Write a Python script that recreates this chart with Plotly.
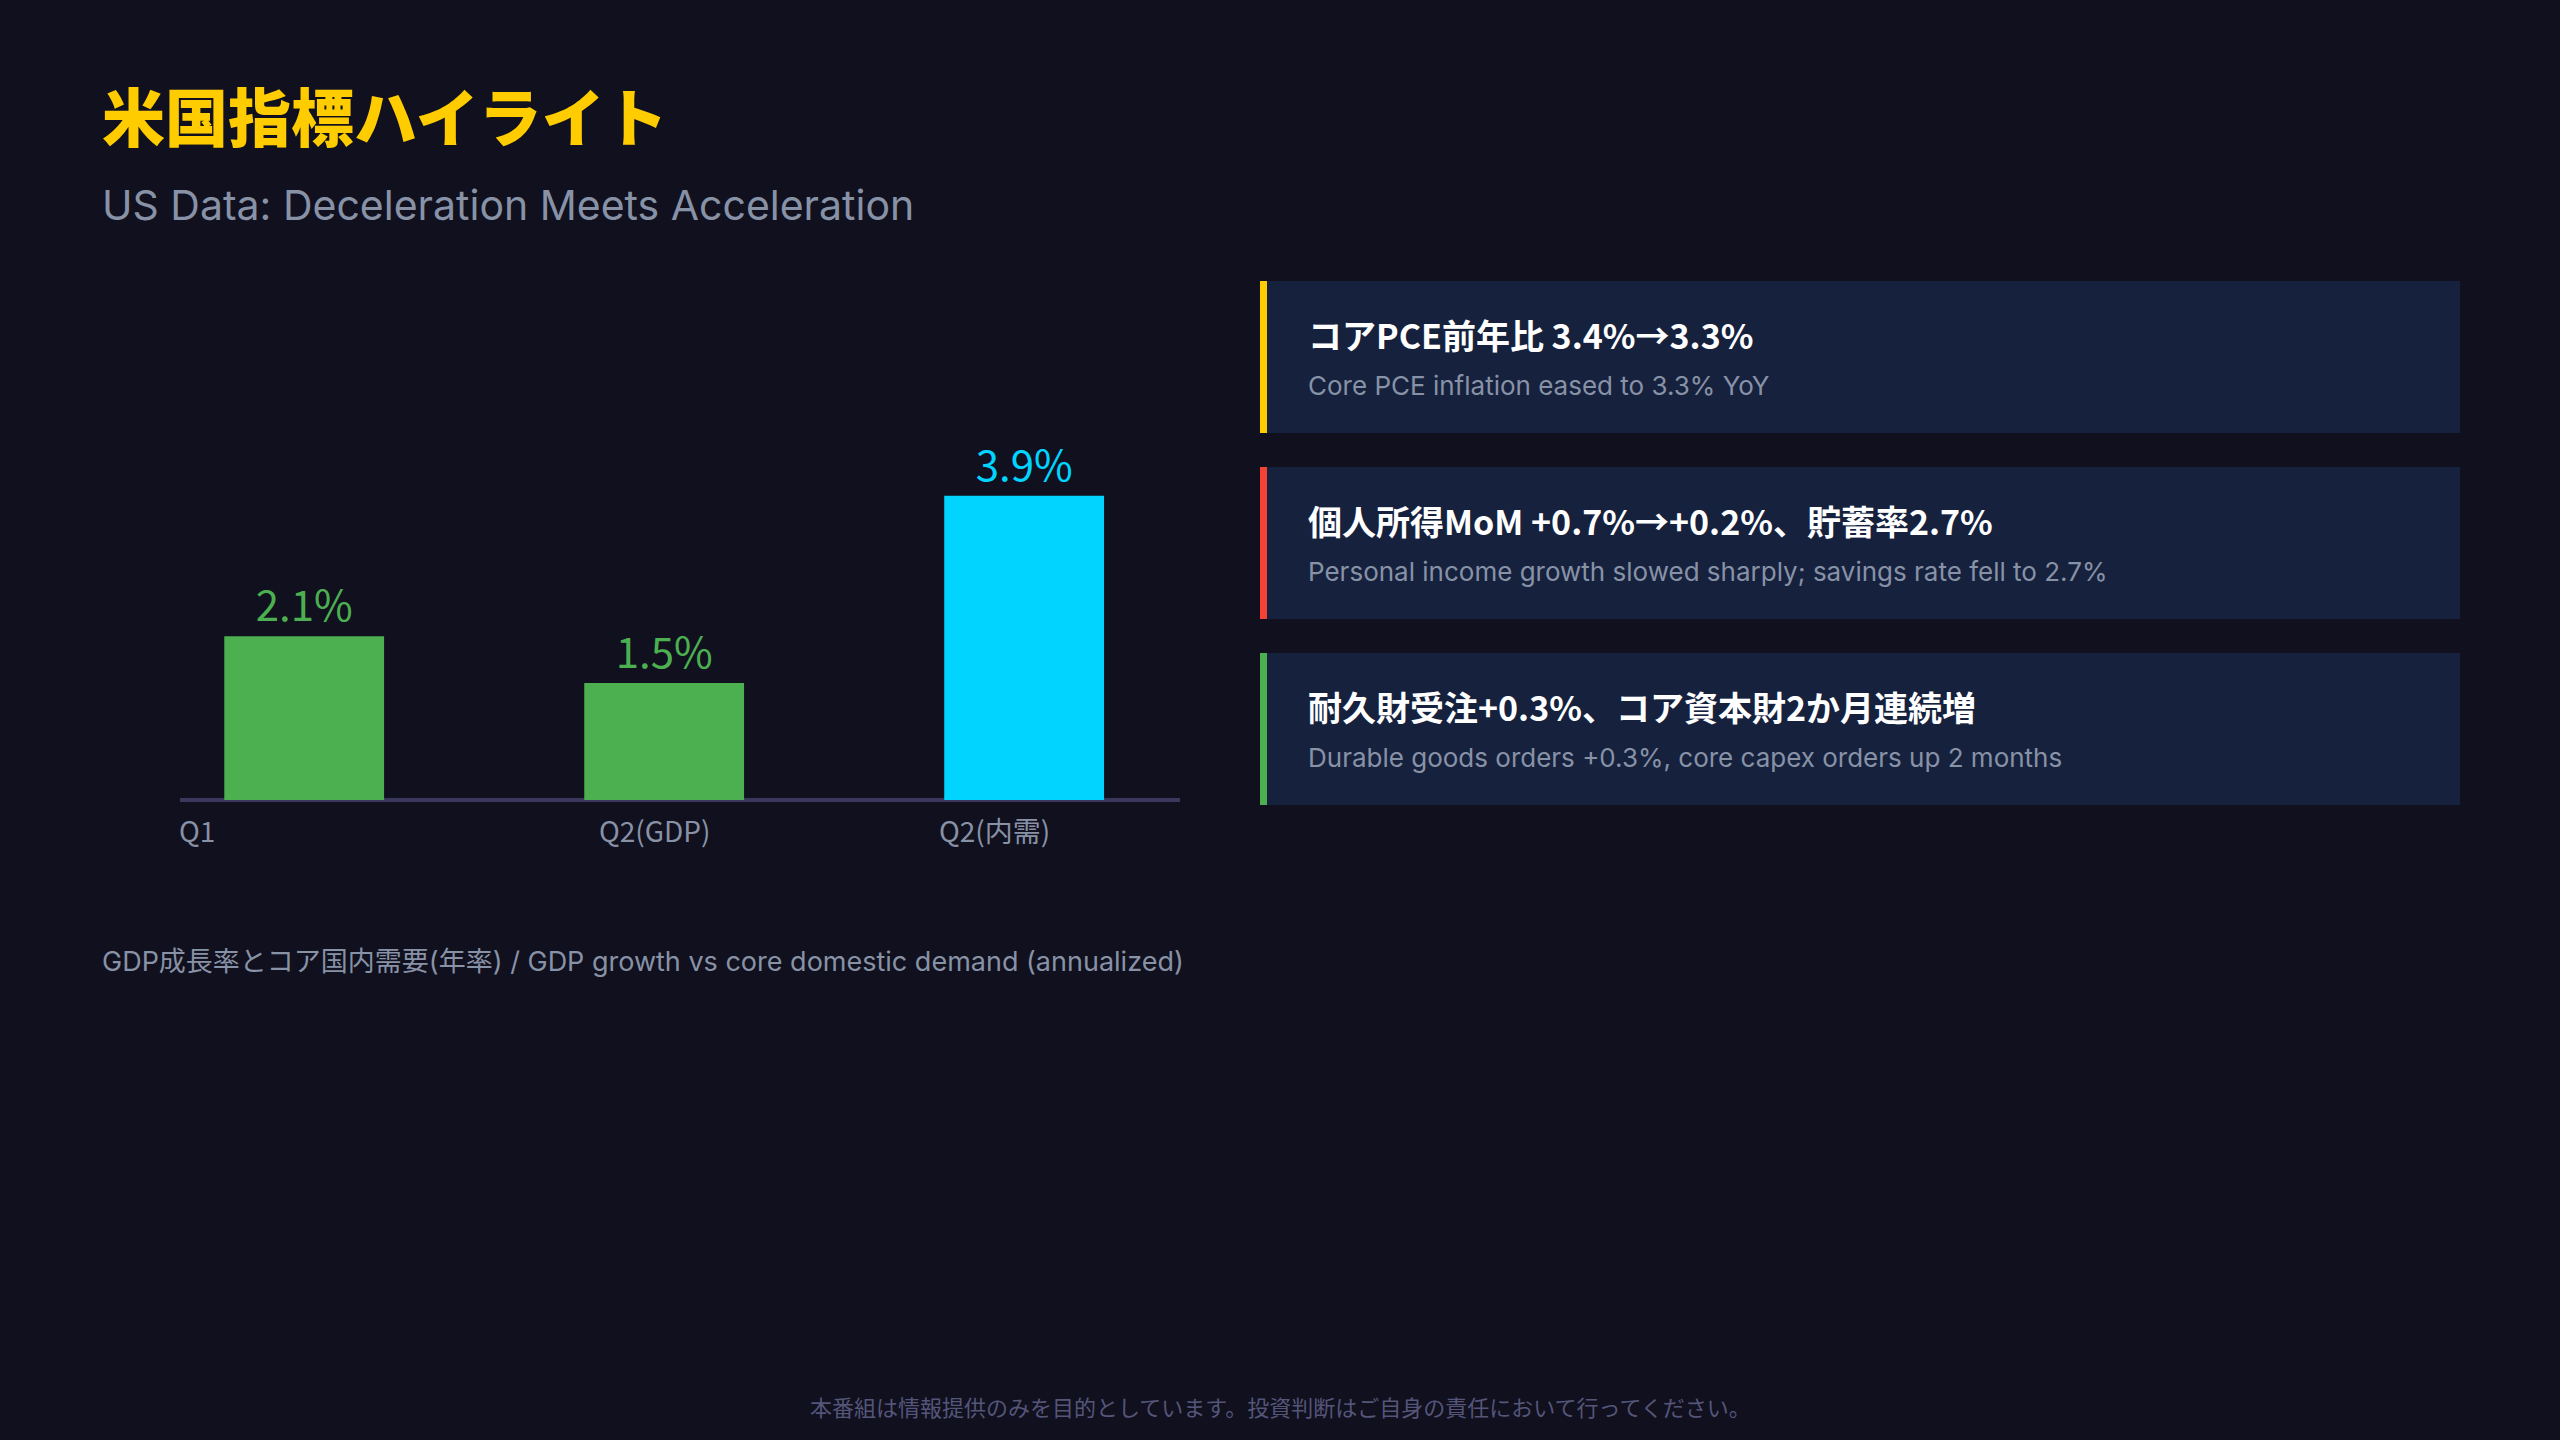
import plotly.graph_objects as go

# ---------------- data ----------------
categories = ["Q1", "Q2(GDP)", "Q2(内需)"]
values = [2.1, 1.5, 3.9]
bar_colors = ["#4CAF50", "#4CAF50", "#00D4FF"]

title_text = "米国指標ハイライト"
subtitle_text = "US Data: Deceleration Meets Acceleration"
caption_text = "GDP成長率とコア国内需要(年率) / GDP growth vs core domestic demand (annualized)"
footer_text = "本番組は情報提供のみを目的としています。投資判断はご自身の責任において行ってください。"

card_titles = [
    "コアPCE前年比 3.4%→3.3%",
    "個人所得MoM +0.7%→+0.2%、貯蓄率2.7%",
    "耐久財受注+0.3%、コア資本財2か月連続増",
]
card_subtitles = [
    "Core PCE inflation eased to 3.3% YoY",
    "Personal income growth slowed sharply; savings rate fell to 2.7%",
    "Durable goods orders +0.3%, core capex orders up 2 months",
]
card_accents = ["#FFCC00", "#F44336", "#4CAF50"]

# ---------------- layout helpers ----------------
W, H = 2560, 1440
BG = "#10101e"
CARD_BG = "#16213e"
GRAY = "#8892a6"
FONT = "Noto Sans CJK JP"
FONT_LATIN = "Inter, 'Noto Sans CJK JP'"


def px(x):
    return x / W


def py(y):
    return 1 - y / H


fig = go.Figure()

fig.add_trace(
    go.Bar(
        x=categories,
        y=values,
        marker=dict(color=bar_colors, line=dict(width=0)),
        width=0.444,
        text=[f"{v}%" for v in values],
        textposition="outside",
        textfont=dict(family=FONT, size=42, color=bar_colors),
        cliponaxis=False,
        hoverinfo="skip",
    )
)

annotations = []
shapes = []

# title / subtitle
annotations.append(dict(
    text=title_text, xref="paper", yref="paper", x=px(100), y=py(114),
    xanchor="left", yanchor="middle", showarrow=False,
    font=dict(family=FONT, size=63, color="#FFCC00", weight=900),
))
annotations.append(dict(
    text=subtitle_text, xref="paper", yref="paper", x=px(100), y=py(205),
    xanchor="left", yanchor="middle", showarrow=False,
    font=dict(family=FONT_LATIN, size=41, color=GRAY),
))

# category labels (left-aligned under the bars)
label_shift = [-127, -67, -87]
for cat, sh in zip(categories, label_shift):
    annotations.append(dict(
        text=cat, xref="x", yref="paper", x=cat, y=py(830), xshift=sh,
        xanchor="left", yanchor="middle", showarrow=False,
        font=dict(family=FONT, size=28, color=GRAY),
    ))

# caption
annotations.append(dict(
    text=caption_text, xref="paper", yref="paper", x=px(100), y=py(962),
    xanchor="left", yanchor="middle", showarrow=False,
    font=dict(family=FONT_LATIN, size=27, color=GRAY),
))

# cards
card_top0, card_h, card_step = 281, 152, 186
card_x0, card_x1, accent_w = 1260, 2460, 7
for i, (t, s, c) in enumerate(zip(card_titles, card_subtitles, card_accents)):
    top = card_top0 + i * card_step
    shapes.append(dict(
        type="rect", xref="paper", yref="paper", layer="below",
        x0=px(card_x0), x1=px(card_x1), y0=py(top + card_h), y1=py(top),
        fillcolor=CARD_BG, line=dict(width=0),
    ))
    shapes.append(dict(
        type="rect", xref="paper", yref="paper", layer="below",
        x0=px(card_x0), x1=px(card_x0 + accent_w), y0=py(top + card_h), y1=py(top),
        fillcolor=c, line=dict(width=0),
    ))
    annotations.append(dict(
        text=t, xref="paper", yref="paper", x=px(1306), y=py(top + 54),
        xanchor="left", yanchor="middle", showarrow=False,
        font=dict(family=FONT, size=34, color="#ffffff", weight=700),
    ))
    annotations.append(dict(
        text=s, xref="paper", yref="paper", x=px(1306), y=py(top + 104),
        xanchor="left", yanchor="middle", showarrow=False,
        font=dict(family=FONT_LATIN, size=26, color=GRAY),
    ))

# footer
annotations.append(dict(
    text=footer_text, xref="paper", yref="paper", x=0.5, y=py(1406),
    xanchor="center", yanchor="middle", showarrow=False,
    font=dict(family=FONT, size=22, color="#55557a"),
))

fig.update_layout(
    width=W, height=H,
    margin=dict(l=0, r=0, t=0, b=0),
    paper_bgcolor=BG, plot_bgcolor=BG,
    showlegend=False,
    font=dict(family=FONT),
    xaxis=dict(
        domain=[px(180), px(1180)], type="category", range=[-0.345, 2.433],
        showticklabels=False, showgrid=False, zeroline=False, showline=False,
        ticks="", fixedrange=True,
    ),
    yaxis=dict(
        domain=[py(800), py(410)], range=[0, 5],
        showticklabels=False, showgrid=False,
        zeroline=True, zerolinecolor="#3a385c", zerolinewidth=4,
        ticks="", fixedrange=True,
    ),
    annotations=annotations,
    shapes=shapes,
)

fig.write_html(
    "out.html",
    config={"displayModeBar": False},
    post_script="document.body.style.margin='0';document.body.style.overflow='hidden';"
                "document.body.style.background='" + BG + "';",
)
